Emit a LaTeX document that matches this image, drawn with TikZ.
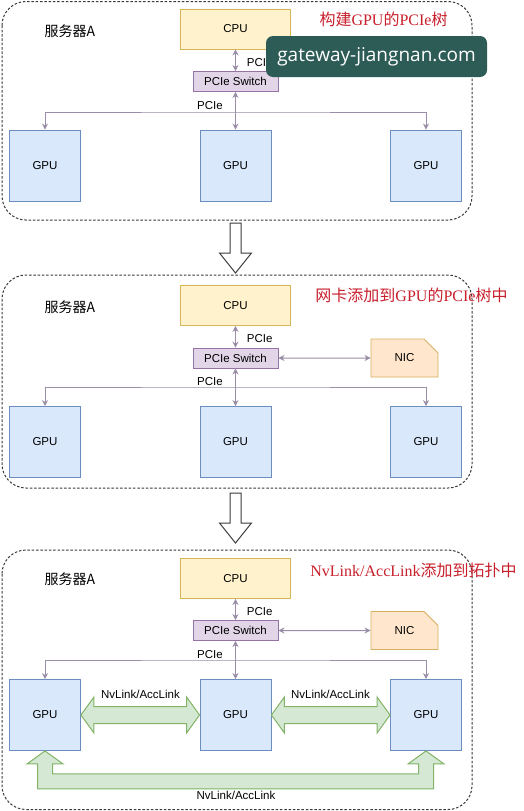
\documentclass[tikz,border=0pt]{standalone}
\usepackage{fontspec}
\setmainfont{Liberation Serif}
\setsansfont{Liberation Sans}
\newfontfamily\cjk{Noto Sans CJK SC}
\newfontfamily\wmfont{Open Sans}
\usepackage{tikz}
\usetikzlibrary{arrows.meta,shapes.misc}
\usepackage{xcolor}
\definecolor{cpufill}{HTML}{FFF2CC}
\definecolor{cpuline}{HTML}{D6B656}
\definecolor{swfill}{HTML}{E1D5E7}
\definecolor{swline}{HTML}{9673A6}
\definecolor{gpufill}{HTML}{DAE8FC}
\definecolor{gpuline}{HTML}{6C8EBF}
\definecolor{nicfill}{HTML}{FFE6CC}
\definecolor{nicline}{HTML}{D7B060}
\definecolor{nvfill}{HTML}{D5E8D4}
\definecolor{nvline}{HTML}{82B366}
\definecolor{linkcol}{HTML}{9A8DA8}
\definecolor{framecol}{HTML}{3A3A3A}
\definecolor{titlered}{HTML}{C8202C}
\definecolor{wmcol}{HTML}{2D5C57}

\begin{document}
\begin{tikzpicture}[x=1pt, y=-1pt, >=stealth, font=\sffamily]
\fontsize{11.5}{13}\selectfont
\tikzset{cpubox/.style={draw=cpuline, fill=cpufill, line width=0.9pt, minimum width=110pt, minimum height=40pt, inner sep=0pt}}
\tikzset{swbox/.style={draw=swline, fill=swfill, line width=0.9pt, minimum width=85pt, minimum height=20pt, inner sep=0pt}}
\tikzset{gpubox/.style={draw=gpuline, fill=gpufill, line width=0.9pt, minimum width=71pt, minimum height=71pt, inner sep=0pt}}
\tikzset{nicbox/.style={chamfered rectangle, chamfered rectangle corners=north east, chamfered rectangle xsep=16pt, chamfered rectangle ysep=15pt, draw=nicline, fill=nicfill, line width=0.9pt, minimum width=67pt, minimum height=38pt, inner sep=0pt}}
\tikzset{panelframe/.style={draw=framecol, line width=1pt, dash pattern=on 2.5pt off 1.8pt, rounded corners=24pt}}
\tikzset{pcielink/.style={draw=linkcol, line width=1pt}}
\tikzset{nvlink/.style={draw=nvline, fill=nvfill, line width=1pt}}
\tikzset{bigarrow/.style={draw=framecol, fill=white, line width=1pt}}
\tikzset{redtitle/.style={text=titlered, font=\rmfamily\fontsize{16}{18}\selectfont}}
\tikzset{srvlabel/.style={font=\cjk\fontsize{14}{16}\selectfont}}
\tikzset{>={Stealth[width=6pt,length=6pt]}}
\fill[white] (0,0) rectangle (524,811);
\useasboundingbox (0,0) rectangle (524,811);

\draw[panelframe] (2,1.5) rectangle (472,220);
\node[cpubox] (cpuA) at (235.5,29) {CPU};
\node[swbox] (swA) at (235.5,81.5) {PCIe Switch};
\node[gpubox] (gpuA1) at (45,165.5) {GPU};
\node[gpubox] (gpuA2) at (235.5,165.5) {GPU};
\node[gpubox] (gpuA3) at (426,165.5) {GPU};
\node[srvlabel] (srvA) at (70,31) {服务器A};
\node[redtitle] (titleA) at (383.5,19) {{\cjk 构建}GPU{\cjk 的}PCIe{\cjk 树}};
\coordinate (busA) at (235.5,112);
\path[pcielink,<->] (cpuA) edge node[right, pos=0.6, xshift=7pt] {PCIe} (swA);
\path[pcielink,<->] (swA) edge (gpuA2);
\draw[pcielink,<->] (gpuA1.north) |- (busA) -| (gpuA3.north);
\node (pcieA) at (210,106) {PCIe};

\draw[bigarrow] (230,223) -- (241,223) -- (241,253) -- (251.5,253) -- (235.5,273) -- (219.5,253) -- (230,253) -- cycle;

\draw[panelframe] (2,275) rectangle (472,488);
\node[cpubox] (cpuB) at (235.5,305.5) {CPU};
\node[swbox] (swB) at (235.5,358) {PCIe Switch};
\node[nicbox] (nicB) at (404.5,358) {NIC};
\node[gpubox] (gpuB1) at (45,442) {GPU};
\node[gpubox] (gpuB2) at (235.5,442) {GPU};
\node[gpubox] (gpuB3) at (426,442) {GPU};
\node[srvlabel] (srvB) at (70,307) {服务器A};
\node[redtitle] (titleB) at (411.5,295) {{\cjk 网卡添加到}GPU{\cjk 的}PCIe{\cjk 树中}};
\coordinate (busB) at (235.5,387);
\path[pcielink,<->] (cpuB) edge node[right, pos=0.6, xshift=7pt] {PCIe} (swB);
\path[pcielink,<->] (swB) edge (gpuB2);
\path[pcielink,<->] (swB) edge (nicB);
\draw[pcielink,<->] (gpuB1.north) |- (busB) -| (gpuB3.north);
\node (pcieB) at (210,382) {PCIe};

\draw[bigarrow] (230,493) -- (241,493) -- (241,523) -- (251.5,523) -- (235.5,543) -- (219.5,523) -- (230,523) -- cycle;

\draw[panelframe] (2,550) rectangle (472,809.5);
\node[cpubox] (cpuC) at (235.5,578.5) {CPU};
\node[swbox] (swC) at (235.5,630.5) {PCIe Switch};
\node[nicbox] (nicC) at (404.5,630.5) {NIC};
\node[gpubox] (gpuC1) at (45,715) {GPU};
\node[gpubox] (gpuC2) at (235.5,715) {GPU};
\node[gpubox] (gpuC3) at (426,715) {GPU};
\node[srvlabel] (srvC) at (70,579) {服务器A};
\node[redtitle] (titleC) at (413.5,570) {NvLink/AccLink{\cjk 添加到拓扑中}};
\coordinate (busC) at (235.5,660);
\path[pcielink,<->] (cpuC) edge node[right, pos=0.6, xshift=7pt] {PCIe} (swC);
\path[pcielink,<->] (swC) edge (gpuC2);
\path[pcielink,<->] (swC) edge (nicC);
\draw[pcielink,<->] (gpuC1.north) |- (busC) -| (gpuC3.north);
\node (pcieC) at (210,655) {PCIe};

\draw[nvlink] (gpuC1.east) -- ++(13,-18) -- ++(0,9.5) -- ([shift={(-13,-8.5)}]gpuC2.west) -- ++(0,-9.5) -- (gpuC2.west) -- ++(-13,18) -- ++(0,-9.5) -- ([shift={(13,8.5)}]gpuC1.east) -- ++(0,9.5) -- cycle;
\draw[nvlink] (gpuC2.east) -- ++(13,-18) -- ++(0,9.5) -- ([shift={(-13,-8.5)}]gpuC3.west) -- ++(0,-9.5) -- (gpuC3.west) -- ++(-13,18) -- ++(0,-9.5) -- ([shift={(13,8.5)}]gpuC2.east) -- ++(0,9.5) -- cycle;
\draw[nvlink] (gpuC1.south) -- ++(18,13) -- ++(-10.5,0) -- ++(0,10) -- ([shift={(-7.5,23)}]gpuC3.south) -- ++(0,-10) -- ++(-10.5,0) -- (gpuC3.south) -- ++(18,13) -- ++(-10.5,0) -- ++(0,25) -- ([shift={(-7.5,38)}]gpuC1.south) -- ++(0,-25) -- ++(-10.5,0) -- cycle;
\node (nvC12) at (140.5,694) {NvLink/AccLink};
\node (nvC23) at (330.5,694) {NvLink/AccLink};
\node (nvC13) at (236,795) {NvLink/AccLink};

\node[fill=wmcol, rounded corners=7pt, minimum width=221pt, minimum height=41pt, inner sep=0pt, text=white, font=\wmfont\fontsize{19}{21}\selectfont] (wm) at (376.5,56.5) {gateway-jiangnan.com};
\end{tikzpicture}
\end{document}
